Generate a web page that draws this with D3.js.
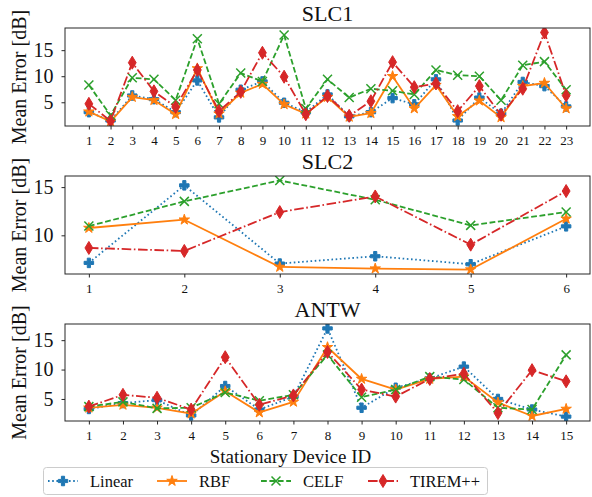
<!DOCTYPE html>
<html>
<head>
<meta charset="utf-8">
<script src="https://cdn.jsdelivr.net/npm/d3@7"></script>
<style>
  html, body { margin: 0; padding: 0; background: #fff; }
  svg { display: block; font-family: "Liberation Serif", "Times New Roman", serif; }
</style>
</head>
<body>
<svg id="chart" width="592" height="497"></svg>
<script>
// ---------------- DATA ----------------
const seriesNames = ["Linear", "RBF", "CELF", "TIREM++"];

const slc1Devices = [1,2,3,4,5,6,7,8,9,10,11,12,13,14,15,16,17,18,19,20,21,22,23];
const slc1Linear = [3.1,1.5,6.3,5.6,3.1,9.2,2.1,7.4,9.0,4.9,3.1,6.5,2.3,3.1,5.8,4.6,9.4,1.5,5.9,2.8,8.9,8.1,4.2];
const slc1RBF    = [3.2,1.3,6.0,5.4,2.7,11.5,2.8,6.8,8.5,4.6,2.8,6.0,2.2,2.9,10.0,3.8,8.3,2.3,5.3,2.1,8.1,8.7,3.8];
const slc1CELF   = [8.3,2.5,9.7,9.4,5.4,17.2,4.7,10.6,9.0,17.9,3.8,9.4,5.9,7.6,7.2,6.5,11.2,10.2,10.0,5.4,12.1,12.8,7.4];
const slc1TIREM  = [4.7,1.4,12.6,7.1,4.1,11.2,3.3,7.0,14.5,9.9,2.7,6.2,2.4,5.2,12.7,7.9,8.6,3.3,8.1,2.6,7.6,18.4,6.3];

const slc2Devices = [1,2,3,4,5,6];
const slc2Linear = [7.14,15.18,7.07,7.83,7.0,10.93];
const slc2RBF    = [10.76,11.62,6.72,6.55,6.45,11.72];
const slc2CELF   = [10.96,13.52,15.69,13.69,11.03,12.41];
const slc2TIREM  = [8.69,8.38,12.41,14.03,9.03,14.59];

const antwDevices = [1,2,3,4,5,6,7,8,9,10,11,12,13,14,15];
const antwLinear = [3.3,4.3,4.8,2.2,7.2,3.2,5.4,17.0,3.5,6.9,8.5,10.5,5.0,3.2,2.0];
const antwRBF    = [3.5,4.0,3.5,2.5,6.3,2.7,4.5,13.8,8.4,6.6,8.4,8.8,4.4,2.1,3.3];
const antwCELF   = [3.7,4.5,3.4,3.5,6.1,4.7,5.7,12.5,5.3,6.6,8.8,8.3,3.5,3.2,12.5];
const antwTIREM  = [3.7,5.7,5.2,3.2,12.1,4.0,5.6,13.0,6.6,5.4,8.4,9.3,2.6,9.9,8.0];

const slc1YTicks = [5,10,15];
const slc2YTicks = [10,15];
const antwYTicks = [5,10,15];

const panelTitles = ["SLC1", "SLC2", "ANTW"];
const yAxisLabel = "Mean Error [dB]";
const xAxisLabel = "Stationary Device ID";

// ---------------- STYLE ----------------
const colors = ["#1f77b4", "#ff7f0e", "#2ca02c", "#d62728"];
const dashes = ["1.6,2.6", null, "5.8,2.6", "9.6,2.6,1.6,2.6"];
const markerTypes = ["P", "star", "x", "d"];

const panels = [
  { title: panelTitles[0], devices: slc1Devices, series: [slc1Linear, slc1RBF, slc1CELF, slc1TIREM], yTicks: slc1YTicks, top: 28, bottom: 126 },
  { title: panelTitles[1], devices: slc2Devices, series: [slc2Linear, slc2RBF, slc2CELF, slc2TIREM], yTicks: slc2YTicks, top: 176, bottom: 274 },
  { title: panelTitles[2], devices: antwDevices, series: [antwLinear, antwRBF, antwCELF, antwTIREM], yTicks: antwYTicks, top: 324, bottom: 421 }
];

const L = 65, R = 590;
const svg = d3.select("#chart");

// marker path generators (centered at 0,0)
function markerPath(type, s) {
  const p = d3.path();
  if (type === "P") {
    const a = s / 6, b = s / 2;
    const pts = [[-a,-b],[a,-b],[a,-a],[b,-a],[b,a],[a,a],[a,b],[-a,b],[-a,a],[-b,a],[-b,-a],[-a,-a]];
    p.moveTo(pts[0][0], pts[0][1]);
    pts.slice(1).forEach(q => p.lineTo(q[0], q[1]));
    p.closePath();
    return p.toString();
  }
  if (type === "star") {
    const ro = s / 2, ri = ro * 0.381966;
    for (let i = 0; i < 10; i++) {
      const r = i % 2 === 0 ? ro : ri;
      const ang = -Math.PI / 2 + i * Math.PI / 5;
      const x = r * Math.cos(ang), y = r * Math.sin(ang);
      if (i === 0) p.moveTo(x, y); else p.lineTo(x, y);
    }
    p.closePath();
    return p.toString();
  }
  if (type === "x") {
    const h = s / 2;
    p.moveTo(-h, -h); p.lineTo(h, h);
    p.moveTo(-h, h); p.lineTo(h, -h);
    return p.toString();
  }
  if (type === "d") {
    const h = s / 2, w = s * 0.3;
    p.moveTo(0, -h); p.lineTo(w, 0); p.lineTo(0, h); p.lineTo(-w, 0); p.closePath();
    return p.toString();
  }
}
const markerSizes = { P: 9.5, star: 11, x: 9, d: 13 };

function drawMarker(g, type, color, x, y) {
  const path = g.append("path")
    .attr("d", markerPath(type, markerSizes[type]))
    .attr("transform", `translate(${x},${y})`);
  if (type === "x") {
    path.attr("fill", "none").attr("stroke", color).attr("stroke-width", 1.5);
  } else {
    path.attr("fill", color).attr("stroke", color).attr("stroke-width", 1).attr("stroke-linejoin", "miter");
  }
}

panels.forEach(pn => {
  const n = pn.devices.length;
  const xm = 0.05 * (n - 1);
  const x = d3.scaleLinear().domain([pn.devices[0] - xm, pn.devices[n - 1] + xm]).range([L, R]);
  const all = pn.series.flat();
  const lo = d3.min(all), hi = d3.max(all), ym = 0.05 * (hi - lo);
  const y = d3.scaleLinear().domain([lo - ym, hi + ym]).range([pn.bottom, pn.top]);

  const g = svg.append("g");

  const clipId = "clip-" + pn.title;
  svg.append("clipPath").attr("id", clipId)
    .append("rect").attr("x", L).attr("y", pn.top).attr("width", R - L).attr("height", pn.bottom - pn.top);

  const plot = g.append("g").attr("clip-path", `url(#${clipId})`);

  pn.series.forEach((vals, si) => {
    const line = d3.line().x((d, i) => x(pn.devices[i])).y(d => y(d));
    plot.append("path")
      .attr("d", line(vals))
      .attr("fill", "none")
      .attr("stroke", colors[si])
      .attr("stroke-width", 1.8)
      .attr("stroke-dasharray", dashes[si])
      .attr("stroke-linejoin", "round");
    vals.forEach((v, i) => drawMarker(plot, markerTypes[si], colors[si], x(pn.devices[i]), y(v)));
  });

  // frame
  g.append("rect").attr("x", L).attr("y", pn.top).attr("width", R - L).attr("height", pn.bottom - pn.top)
    .attr("fill", "none").attr("stroke", "#262626").attr("stroke-width", 1);

  // x axis
  const xAxis = d3.axisBottom(x).tickValues(pn.devices).tickFormat(d3.format("d")).tickSize(3.5);
  const xg = g.append("g").attr("transform", `translate(0,${pn.bottom})`).call(xAxis);
  xg.select(".domain").remove();
  xg.selectAll(".tick line").attr("stroke", "#262626");
  xg.selectAll(".tick text").attr("font-family", "Liberation Serif").attr("font-size", 13).attr("fill", "#111")
    .attr("y", 19).attr("dy", null);

  // y axis
  const yAxis = d3.axisLeft(y).tickValues(pn.yTicks).tickSize(3.5).tickPadding(8);
  const yg = g.append("g").attr("transform", `translate(${L},0)`).call(yAxis);
  yg.select(".domain").remove();
  yg.selectAll(".tick line").attr("stroke", "#262626");
  yg.selectAll(".tick text").attr("font-family", "Liberation Serif").attr("font-size", 20).attr("fill", "#111");

  // y label
  g.append("text")
    .attr("transform", `translate(26,${(pn.top + pn.bottom) / 2}) rotate(-90)`)
    .attr("text-anchor", "middle")
    .attr("font-size", 20).attr("fill", "#111")
    .text(yAxisLabel);

  // title
  g.append("text")
    .attr("x", (L + R) / 2).attr("y", pn.top - 7)
    .attr("text-anchor", "middle")
    .attr("font-size", 22).attr("fill", "#111")
    .text(pn.title);
});

// x label
svg.append("text")
  .attr("x", (L + R) / 2 - 37).attr("y", 463)
  .attr("text-anchor", "middle")
  .attr("font-size", 19).attr("fill", "#111")
  .text(xAxisLabel);

// legend
const lg = svg.append("g");
lg.append("rect").attr("x", 43.5).attr("y", 467.5).attr("width", 444).attr("height", 27).attr("rx", 3)
  .attr("fill", "#fff").attr("fill-opacity", 0.8).attr("stroke", "#cccccc").attr("stroke-width", 1);
const legendX = [48, 157, 261, 368];
seriesNames.forEach((name, si) => {
  const x0 = legendX[si], yc = 481;
  lg.append("line").attr("x1", x0).attr("x2", x0 + 30).attr("y1", yc).attr("y2", yc)
    .attr("stroke", colors[si]).attr("stroke-width", 1.8).attr("stroke-dasharray", dashes[si]);
  drawMarker(lg, markerTypes[si], colors[si], x0 + 15, yc);
  lg.append("text").attr("x", x0 + 42).attr("y", yc + 5.5)
    .attr("font-size", 16.5).attr("fill", "#111").text(name);
});
</script>
</body>
</html>
